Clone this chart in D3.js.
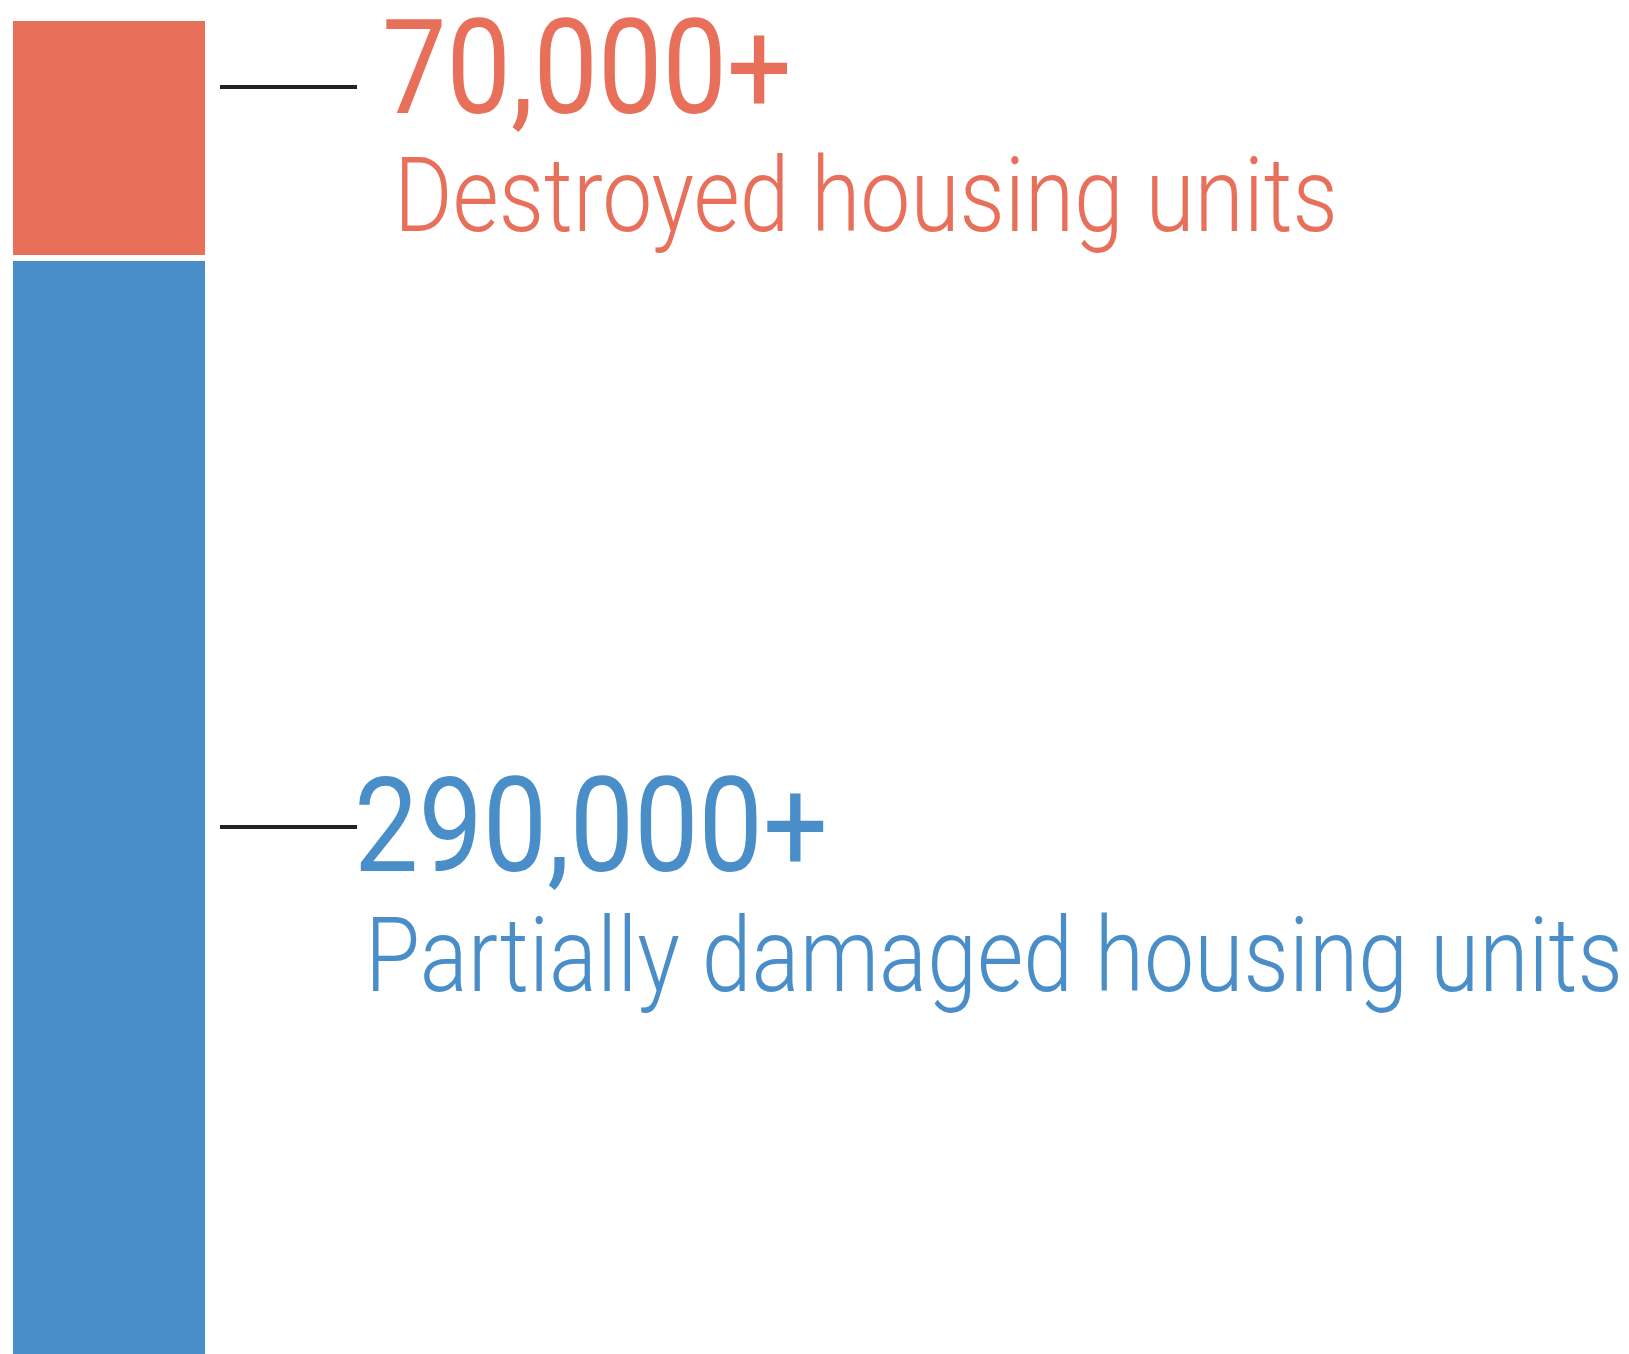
<!DOCTYPE html>
<html>
<head>
<meta charset="utf-8">
<script src="https://d3js.org/d3.v7.min.js"></script>
<style>
  html, body { margin: 0; padding: 0; background: #fff; }
  svg { display: block; }
</style>
</head>
<body>
<div id="chart"></div>
<script>
// Chart values
var categories = ["Destroyed", "Partially damaged"];
var values = [70000, 290000];
var numberLabels = ["70,000+", "290,000+"];
var textLabels = ["Destroyed housing units", "Partially damaged housing units"];
var colors = ["#E8705B", "#4A8EC9"];

var width = 1629,
    height = 1354,
    gap = 6;

var svg = d3.select("#chart")
  .append("svg")
    .attr("width", width)
    .attr("height", height);

// Stack the values into one column
var stacked = [];
var running = 0;
values.forEach(function (v, i) {
  stacked.push({ key: categories[i], y0: running, y1: running + v, i: i });
  running += v;
});

// The picture is cropped at the bottom, so the scale bends after the first segment
var y = d3.scaleLinear()
    .domain([0, values[0], running])
    .range([21, 258, 1400]);

var x = d3.scaleBand()
    .domain(["housing"])
    .range([13, 205])
    .padding(0);

svg.append("g")
  .selectAll("rect")
  .data(stacked)
  .enter().append("rect")
    .attr("x", x("housing"))
    .attr("width", x.bandwidth())
    .attr("y", function (d) { return y(d.y0) + (d.i > 0 ? gap / 2 : 0); })
    .attr("height", function (d) { return y(d.y1) - y(d.y0) - gap / 2; })
    .attr("fill", function (d) { return colors[d.i]; });

// Label layout for each segment
var lineY = [87, 827];
var numBase = [113, 871];
var numX = [382, 354];
var numLen = [410, 474];
var txtBase = [231, 991];
var txtX = [394, 365];
var txtLen = [944, 1258];

var labels = svg.append("g")
  .selectAll("g")
  .data(stacked)
  .enter().append("g");

// connector lines
labels.append("line")
    .attr("x1", 220)
    .attr("x2", 357)
    .attr("y1", function (d) { return lineY[d.i]; })
    .attr("y2", function (d) { return lineY[d.i]; })
    .attr("stroke", "#222")
    .attr("stroke-width", 4);

// squeeze a text horizontally so it looks like a condensed face
function condensed(sel, len) {
  sel.each(function (d) {
    var w = this.getComputedTextLength();
    var sx = len[d.i] / w;
    d3.select(this.parentNode).attr("transform", function () {
      return d3.select(this).attr("transform") + " scale(" + sx + ",1)";
    });
  });
}

// big numbers
var nums = labels.append("g")
    .attr("transform", function (d) { return "translate(" + numX[d.i] + "," + numBase[d.i] + ")"; })
  .append("text")
    .style("font-family", "Roboto, 'Noto Sans', sans-serif")
    .style("font-weight", 400)
    .style("font-size", "132px")
    .style("fill", function (d) { return colors[d.i]; })
    .text(function (d) { return numberLabels[d.i]; });
condensed(nums, numLen);

// descriptions
var descs = labels.append("g")
    .attr("transform", function (d) { return "translate(" + txtX[d.i] + "," + txtBase[d.i] + ")"; })
  .append("text")
    .style("font-family", "Roboto, 'Noto Sans', sans-serif")
    .style("font-weight", 300)
    .style("font-size", "104px")
    .style("fill", function (d) { return colors[d.i]; })
    .text(function (d) { return textLabels[d.i]; });
condensed(descs, txtLen);
</script>
</body>
</html>
